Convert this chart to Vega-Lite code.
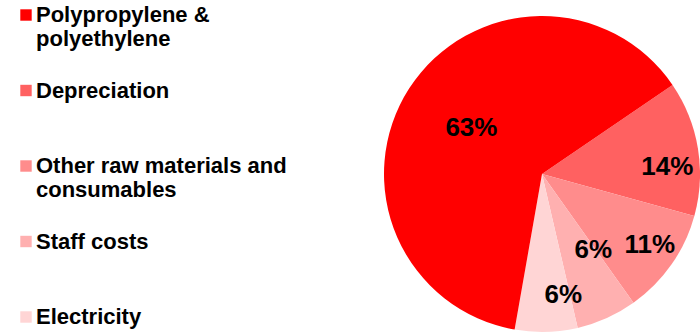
{
  "$schema": "https://vega.github.io/schema/vega-lite/v6.json",
  "width": 316,
  "height": 320,
  "autosize": {"type": "none"},
  "padding": {"left": 384, "top": 14, "right": 0, "bottom": 0},
  "background": "white",
  "config": {"view": {"stroke": null}, "font": "Liberation Sans"},
  "data": {
    "values": [
      {"cat": "Polypropylene  &|polyethylene", "value": 62.7, "label": "63%", "order": 5},
      {"cat": "Depreciation|", "value": 13.8, "label": "14%", "order": 1},
      {"cat": "Other raw materials and|consumables", "value": 10.9, "label": "11%", "order": 2},
      {"cat": "Staff costs|", "value": 6.2, "label": "6%", "order": 3},
      {"cat": "Electricity|", "value": 6.4, "label": "6%", "order": 4}
    ]
  },
  "transform": [
    {"stack": "value", "groupby": [], "sort": [{"field": "order", "order": "ascending"}], "as": ["v0", "v1"]},
    {"calculate": "(datum.v0 + datum.v1) / 2", "as": "mid"}
  ],
  "layer": [
    {
      "mark": {"type": "arc", "outerRadius": 158},
      "encoding": {
        "theta": {"field": "v0", "type": "quantitative", "stack": null, "scale": {"domain": [0, 100], "range": [0.9721, 7.2553]}},
        "theta2": {"field": "v1"},
        "color": {
          "field": "cat",
          "type": "nominal",
          "scale": {
            "domain": ["Polypropylene  &|polyethylene", "Depreciation|", "Other raw materials and|consumables", "Staff costs|", "Electricity|"],
            "range": ["#FF0000", "#FF6161", "#FF8C8C", "#FFB0B0", "#FFD5D5"]
          },
          "legend": {
            "orient": "none",
            "legendX": -369,
            "legendY": -10,
            "title": null,
            "padding": 0,
            "symbolType": "square",
            "symbolSize": 130,
            "symbolStrokeWidth": 0,
            "symbolOpacity": 1,
            "labelFont": "Liberation Sans",
            "labelFontSize": 22,
            "labelFontWeight": "bold",
            "labelColor": "black",
            "labelLimit": 0,
            "labelOffset": -1,
            "rowPadding": 29.5,
            "labelExpr": "split(datum.label, '|')"
          }
        },
        "order": {"field": "order", "type": "quantitative"}
      }
    },
    {
      "transform": [{"filter": "datum.order == 5"}],
      "mark": {"type": "text", "radius": 84, "font": "Liberation Sans", "fontWeight": "bold", "fontSize": 26, "color": "black", "align": "center", "baseline": "middle"},
      "encoding": {
        "theta": {"field": "mid", "type": "quantitative", "stack": null},
        "text": {"field": "label", "type": "nominal"}
      }
    },
    {
      "transform": [{"filter": "datum.order == 1"}],
      "mark": {"type": "text", "radius": 125, "dx": 2, "dy": 14, "font": "Liberation Sans", "fontWeight": "bold", "fontSize": 26, "color": "black", "align": "center", "baseline": "middle"},
      "encoding": {
        "theta": {"field": "mid", "type": "quantitative", "stack": null},
        "text": {"field": "label", "type": "nominal"}
      }
    },
    {
      "transform": [{"filter": "datum.order == 2"}],
      "mark": {"type": "text", "radius": 128, "dx": 3, "dy": -2, "font": "Liberation Sans", "fontWeight": "bold", "fontSize": 26, "color": "black", "align": "center", "baseline": "middle"},
      "encoding": {
        "theta": {"field": "mid", "type": "quantitative", "stack": null},
        "text": {"field": "label", "type": "nominal"}
      }
    },
    {
      "transform": [{"filter": "datum.order == 3"}],
      "mark": {"type": "text", "radius": 91, "dx": 14, "dy": -7, "font": "Liberation Sans", "fontWeight": "bold", "fontSize": 26, "color": "black", "align": "center", "baseline": "middle"},
      "encoding": {
        "theta": {"field": "mid", "type": "quantitative", "stack": null},
        "text": {"field": "label", "type": "nominal"}
      }
    },
    {
      "transform": [{"filter": "datum.order == 4"}],
      "mark": {"type": "text", "radius": 121, "dx": 18, "dy": 0, "font": "Liberation Sans", "fontWeight": "bold", "fontSize": 26, "color": "black", "align": "center", "baseline": "middle"},
      "encoding": {
        "theta": {"field": "mid", "type": "quantitative", "stack": null},
        "text": {"field": "label", "type": "nominal"}
      }
    }
  ]
}
